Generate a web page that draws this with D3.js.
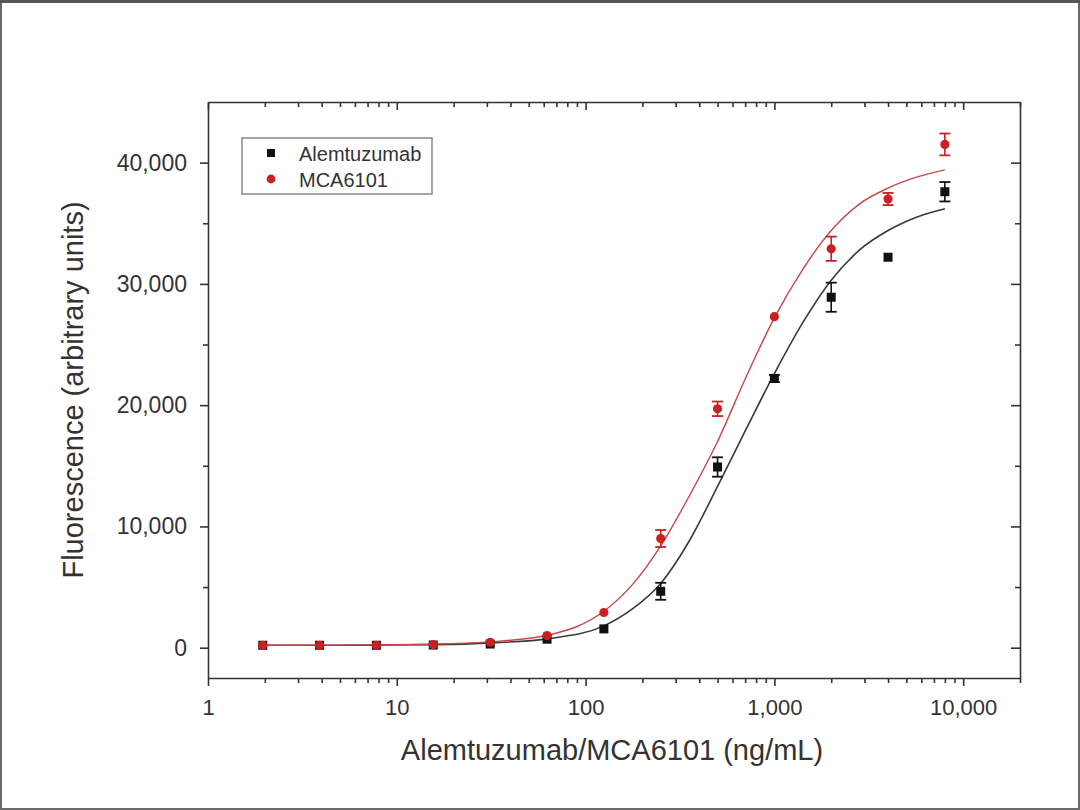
<!DOCTYPE html>
<html>
<head>
<meta charset="utf-8">
<script src="https://cdn.jsdelivr.net/npm/d3@7"></script>
<style>
  html, body { margin: 0; padding: 0; background: #fff; }
  svg { display: block; }
  text { font-family: "Liberation Sans", Arial, sans-serif; fill: #333; }
</style>
</head>
<body>
<svg id="chart" width="1080" height="810"></svg>
<script>
// ---- Data ----
const concentrations = [1.95, 3.9, 7.8, 15.6, 31.25, 62.5, 125, 250, 500, 1000, 2000, 4000, 8000];

const alemValues = [200, 200, 200, 220, 300, 700, 1550, 4650, 14900, 22200, 28900, 32200, 37600];
const alemErrors = [80, 80, 80, 80, 100, 150, 200, 700, 800, 300, 1200, 200, 800];

const mcaValues  = [200, 200, 200, 250, 450, 1000, 2900, 9000, 19700, 27300, 32900, 37000, 41500];
const mcaErrors  = [80, 80, 80, 80, 100, 150, 200, 700, 600, 200, 1000, 500, 900];

// fitted curves as traced on the picture
const curveX   = [2, 4, 8, 16, 32, 64, 125, 177, 250, 354, 500, 707, 1000, 1414, 2000, 2828, 4000, 5657, 8000];
const alemFitY = [200, 205, 215, 250, 400, 750, 1800, 3200, 5300, 8800, 13300, 18000, 22600, 26800, 30300, 32800, 34400, 35500, 36200];
const mcaFitY  = [200, 210, 230, 300, 500, 1050, 3000, 5200, 8400, 12500, 17000, 22300, 27200, 31200, 34400, 36600, 37900, 38800, 39400];

const xTickValues = [1, 10, 100, 1000, 10000];
const yTickValues = [0, 10000, 20000, 30000, 40000];
const seriesNames = ["Alemtuzumab", "MCA6101"];

// ---- Layout ----
const W = 1080, H = 810;
const L = 208, R = 1020, T = 102, B = 678;
const svg = d3.select("#chart");

// outer frame
svg.append("rect").attr("x", 1).attr("y", 1).attr("width", W - 2).attr("height", H - 2)
  .attr("fill", "#fff").attr("stroke", "#6a6a6a").attr("stroke-width", 2);
svg.append("line").attr("x1", 0).attr("x2", W).attr("y1", 1.5).attr("y2", 1.5)
  .attr("stroke", "#555").attr("stroke-width", 3);

const x = d3.scaleLog().domain([1, 20000]).range([L, R]);
const y = d3.scaleLinear().domain([-2500, 45000]).range([B, T]);

const axisColor = "#333";
const fmt = d3.format(",");

// minor tick values
const xMinor = [];
for (let d = 1; d < 20000; d *= 10) {
  for (let k = 2; k <= 9; k++) { const v = d * k; if (v <= 20000) xMinor.push(v); }
}
const yMinor = [5000, 15000, 25000, 35000];

function styleAxis(g, size) {
  g.selectAll("path, line").attr("stroke", axisColor).attr("stroke-width", 1.6);
  g.selectAll("text").attr("fill", "#333").style("font-size", (size || 22) + "px")
    .style("font-family", "'Liberation Sans', Arial, sans-serif");
}

// bottom axis (outward ticks)
svg.append("g").attr("transform", `translate(0,${B})`)
  .call(d3.axisBottom(x).tickValues(xTickValues).tickFormat(fmt).tickSize(8).tickSizeOuter(0).tickPadding(13))
  .call(styleAxis);
svg.append("g").attr("transform", `translate(0,${B})`)
  .call(d3.axisBottom(x).tickValues(xMinor).tickFormat("").tickSize(5).tickSizeOuter(0))
  .call(styleAxis).select(".domain").remove();

// top axis (inward ticks)
svg.append("g").attr("transform", `translate(0,${T})`)
  .call(d3.axisBottom(x).tickValues(xTickValues).tickFormat("").tickSize(8).tickSizeOuter(0))
  .call(styleAxis);
svg.append("g").attr("transform", `translate(0,${T})`)
  .call(d3.axisBottom(x).tickValues(xMinor).tickFormat("").tickSize(5).tickSizeOuter(0))
  .call(styleAxis).select(".domain").remove();

// left axis (outward ticks)
svg.append("g").attr("transform", `translate(${L},0)`)
  .call(d3.axisLeft(y).tickValues(yTickValues).tickFormat(fmt).tickSize(8).tickSizeOuter(0).tickPadding(13))
  .call(g => styleAxis(g, 23));
svg.append("g").attr("transform", `translate(${L},0)`)
  .call(d3.axisLeft(y).tickValues(yMinor).tickFormat("").tickSize(5).tickSizeOuter(0))
  .call(styleAxis).select(".domain").remove();

// right axis (inward ticks)
svg.append("g").attr("transform", `translate(${R},0)`)
  .call(d3.axisLeft(y).tickValues(yTickValues).tickFormat("").tickSize(9).tickSizeOuter(0))
  .call(styleAxis);
svg.append("g").attr("transform", `translate(${R},0)`)
  .call(d3.axisLeft(y).tickValues(yMinor).tickFormat("").tickSize(5).tickSizeOuter(0))
  .call(styleAxis).select(".domain").remove();

// axis titles
svg.append("text").attr("x", 612).attr("y", 760).attr("text-anchor", "middle")
  .style("font-size", "29px").text("Alemtuzumab/MCA6101 (ng/mL)");
svg.append("text").attr("transform", `translate(83,${(T + B) / 2})rotate(-90)`)
  .attr("text-anchor", "middle").style("font-size", "29px").text("Fluorescence (arbitrary units)");

// fitted curves
const line = d3.line().x(d => x(d[0])).y(d => y(d[1])).curve(d3.curveMonotoneX);
svg.append("path").datum(curveX.map((v, i) => [v, alemFitY[i]]))
  .attr("d", line).attr("fill", "none").attr("stroke", "#3a3a3a").attr("stroke-width", 1.6);
svg.append("path").datum(curveX.map((v, i) => [v, mcaFitY[i]]))
  .attr("d", line).attr("fill", "none").attr("stroke", "#c8474a").attr("stroke-width", 1.4);

// error bars + markers
function drawSeries(vals, errs, color, shape) {
  const g = svg.append("g");
  const data = concentrations.map((c, i) => ({ c, v: vals[i], e: errs[i] }));
  const eb = g.selectAll("g.eb").data(data.filter(d => y(d.v - d.e) - y(d.v + d.e) > 6)).join("g");
  eb.append("line").attr("x1", d => x(d.c)).attr("x2", d => x(d.c))
    .attr("y1", d => y(d.v - d.e)).attr("y2", d => y(d.v + d.e))
    .attr("stroke", color).attr("stroke-width", 1.6);
  [1, -1].forEach(s => {
    eb.append("line").attr("x1", d => x(d.c) - 5.5).attr("x2", d => x(d.c) + 5.5)
      .attr("y1", d => y(d.v + s * d.e)).attr("y2", d => y(d.v + s * d.e))
      .attr("stroke", color).attr("stroke-width", 1.8);
  });
  if (shape === "square") {
    g.selectAll("rect.m").data(data).join("rect")
      .attr("x", d => x(d.c) - 4.5).attr("y", d => y(d.v) - 4.5)
      .attr("width", 9).attr("height", 9).attr("fill", color);
  } else {
    g.selectAll("circle.m").data(data).join("circle")
      .attr("cx", d => x(d.c)).attr("cy", d => y(d.v)).attr("r", 4.6).attr("fill", color);
  }
}
drawSeries(alemValues, alemErrors, "#111", "square");
drawSeries(mcaValues, mcaErrors, "#cc1f22", "circle");

// legend
const lg = svg.append("g");
lg.append("rect").attr("x", 242).attr("y", 138).attr("width", 190).attr("height", 56)
  .attr("fill", "#fff").attr("stroke", "#888").attr("stroke-width", 1.5);
lg.append("rect").attr("x", 267).attr("y", 149).attr("width", 8).attr("height", 8).attr("fill", "#111");
lg.append("circle").attr("cx", 271).attr("cy", 179).attr("r", 4.4).attr("fill", "#cc1f22");
lg.append("text").attr("x", 299).attr("y", 161).style("font-size", "20px").attr("fill", "#333").text(seriesNames[0]);
lg.append("text").attr("x", 299).attr("y", 187).style("font-size", "20px").attr("fill", "#333").text(seriesNames[1]);
</script>
</body>
</html>
